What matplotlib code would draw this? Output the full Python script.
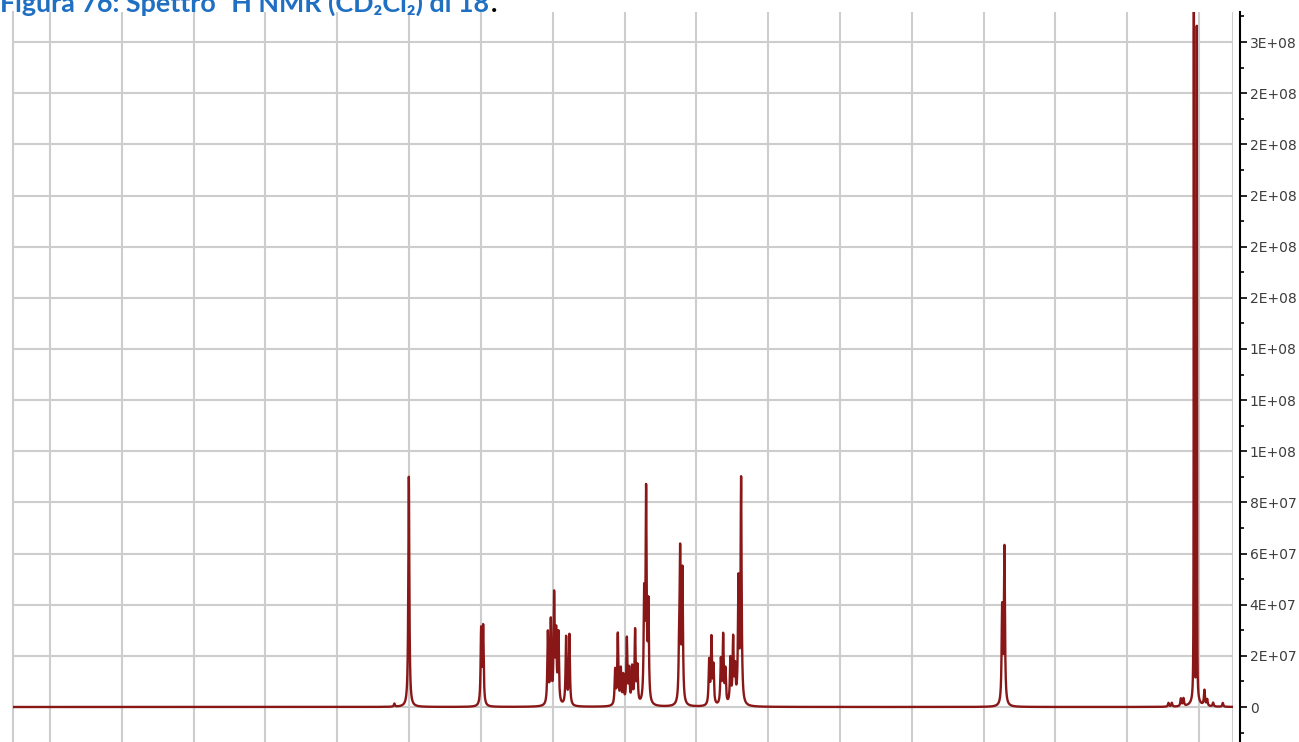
import numpy as np
import matplotlib
matplotlib.use("Agg")
import matplotlib.pyplot as plt
from matplotlib.ticker import MultipleLocator, FuncFormatter

# ---- peak list of the 1H spectrum: chemical shift (ppm) and height ----
shift_ppm = [11.205, 11.004,
             9.997, 9.969,
             9.068, 9.027, 8.981, 8.953, 8.921, 8.814, 8.768,
             8.131, 8.094, 8.052, 8.016, 7.968, 7.936, 7.895, 7.853, 7.821,
             7.727, 7.700, 7.668,
             7.240, 7.226, 7.194,
             6.822, 6.790, 6.762, 6.659, 6.627, 6.595, 6.526, 6.488, 6.460,
             6.414, 6.377,
             2.742, 2.710,
             0.426, 0.379, 0.253, 0.217,
             -0.075, -0.113, -0.196, -0.331]
intensity = [1.2e6, 9.0e7,
             2.9e7, 3.0e7,
             2.8e7, 3.2e7, 4.15e7, 2.6e7, 2.7e7, 2.65e7, 2.75e7,
             1.35e7, 2.75e7, 1.35e7, 1.1e7, 2.55e7, 1.3e7, 1.4e7, 2.85e7, 1.4e7,
             4.0e7, 8.1e7, 3.7e7,
             1.7e7, 5.6e7, 5.1e7,
             1.7e7, 2.55e7, 1.45e7, 1.7e7, 2.65e7, 1.3e7, 1.75e7, 2.5e7, 1.3e7,
             4.7e7, 8.75e7,
             3.7e7, 6.1e7,
             1.5e6, 1.5e6, 3.0e6, 3.0e6,
             6.0e6, 2.5e6, 1.5e6, 1.5e6]

# intense high-field pair (sharper lines) and the broad foot beneath it
pair_ppm = [0.072, 0.031]
pair_intensity = [2.95e8, 2.62e8]
foot_ppm = [0.052]
foot_intensity = [4.0e6]

ppm_left, ppm_right = 16.516, -0.473
y_low, y_high = -1.3685e7, 2.7175e8


def lorentz(x, centres, heights, hwhm):
    out = np.zeros_like(x)
    for c, h in zip(centres, heights):
        out += h * hwhm ** 2 / ((x - c) ** 2 + hwhm ** 2)
    return out


ppm = np.linspace(ppm_left, ppm_right, 120000)
spectrum = (lorentz(ppm, shift_ppm, intensity, 0.0084)
            + lorentz(ppm, pair_ppm, pair_intensity, 0.0024)
            + lorentz(ppm, foot_ppm, foot_intensity, 0.045))

W, H = 1299, 742
fig = plt.figure(figsize=(W / 100, H / 100), dpi=100)
ax = fig.add_axes([13 / W, 0.0, (1233 - 13) / W, (H - 12) / H])

grid_col = "#cdcdcd"
ax.plot(ppm, spectrum, color="#8a1717", lw=1.7, zorder=3)

ax.set_xlim(ppm_left, ppm_right)
ax.set_ylim(y_low, y_high)

# vertical grid every ppm, no visible x labels
ax.set_xticks(np.arange(0, 17, 1))
ax.tick_params(axis="x", length=0, labelbottom=False)

# intensity axis on the right
ax.yaxis.tick_right()
ax.yaxis.set_major_locator(MultipleLocator(2e7))
ax.yaxis.set_minor_locator(MultipleLocator(1e7))


def sci_label(v, pos):
    if abs(v) < 1:
        return "0"
    return f"{v:.0E}"


ax.yaxis.set_major_formatter(FuncFormatter(sci_label))
ax.tick_params(axis="y", which="major", direction="out", length=5, width=1.2,
               pad=2, labelsize=10, labelcolor="#3c3c3c", color="black")
ax.tick_params(axis="y", which="minor", direction="out", length=3, width=1.2,
               color="black")
for lab in ax.get_yticklabels():
    lab.set_family("DejaVu Sans")

ax.grid(True, which="major", color=grid_col, lw=1.5, zorder=0)
ax.set_axisbelow(True)

for side in ("top", "bottom"):
    ax.spines[side].set_visible(False)
ax.spines["left"].set_color(grid_col)
ax.spines["left"].set_linewidth(1.5)
ax.spines["right"].set_position(("outward", 5))
ax.spines["right"].set_color("black")
ax.spines["right"].set_linewidth(1.5)

# right frame line of the plotting area
ax.axvline(ppm_right, color=grid_col, lw=1.5, zorder=0)

# caption above the plot (only its lower part falls inside the page)
title_kw = dict(family=["Lato", "DejaVu Sans"], weight="bold")
base_y = 1 - 12 / H
cap = fig.text(0.5 / W, base_y, "Figura 76: Spettro \u00b9H NMR (CD\u2082Cl\u2082) di 18",
               ha="left", va="baseline", fontsize=15, color="#1f6fc2", **title_kw)
fig.canvas.draw()
renderer = fig.canvas.get_renderer()
bb = cap.get_window_extent(renderer)
cap.set_fontsize(15 * 492 / bb.width)
fig.canvas.draw()
bb = cap.get_window_extent(renderer)
fig.text(bb.x1 / W + 1 / W, base_y, ".", ha="left", va="baseline",
         fontsize=cap.get_fontsize(), color="black", **title_kw)

fig.savefig("out.png", dpi=100)
